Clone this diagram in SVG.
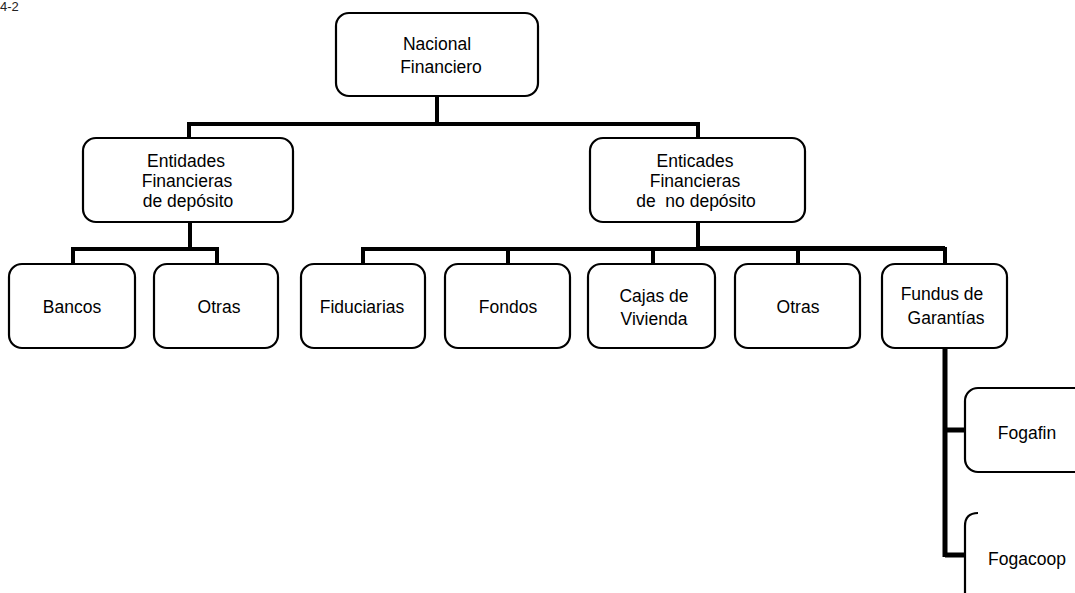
<svg xmlns="http://www.w3.org/2000/svg" width="1075" height="593" viewBox="0 0 1075 593">
<style>
.box{fill:#fff;stroke:#000;stroke-width:2.2}
.t{font-family:"Liberation Sans",Arial,sans-serif;font-size:17.5px;fill:#000;text-anchor:middle}
.c{stroke:#000;stroke-width:4;fill:none}
</style>
<rect width="1075" height="593" fill="#fff"/>
<text x="0" y="11" style="font-family:'Liberation Sans',Arial,sans-serif;font-size:13px;fill:#222">4-2</text>
<g id="connectors">
<path class="c" d="M437 96V124M187 124H700M189 124V138M698 124V138"/>
<path class="c" d="M190 222V249M71 249H219M73 249V264M217 249V264"/>
<path class="c" d="M698 222V249M361 249H947M363 249V264M508 249V264M653 249V264M798 249V264M945 249V264"/>
<path class="c" d="M698 247H945" style="stroke-width:2"/>
<path class="c" d="M945 348V557M945 430H966M945 555H966" style="stroke-width:5"/>
</g>
<g id="n-nacional"><rect class="box" x="336" y="13" width="202" height="83" rx="13"/><text class="t" x="437" y="50">Nacional</text><text class="t" x="441" y="73">Financiero</text></g>
<g id="n-deposito"><rect class="box" x="83" y="138" width="210" height="84" rx="13"/><text class="t" x="186" y="167">Entidades</text><text class="t" x="187" y="187">Financieras</text><text class="t" x="188" y="207">de depósito</text></g>
<g id="n-nodeposito"><rect class="box" x="590" y="138" width="215" height="84" rx="13"/><text class="t" x="695" y="167">Enticades</text><text class="t" x="695" y="187">Financieras</text><text class="t" x="696" y="207" xml:space="preserve">de  no depósito</text></g>
<g id="n-bancos"><rect class="box" x="9" y="264" width="126" height="84" rx="13"/><text class="t" x="72" y="313">Bancos</text></g>
<g id="n-otras1"><rect class="box" x="154" y="264" width="124" height="84" rx="13"/><text class="t" x="219" y="313">Otras</text></g>
<g id="n-fiduciarias"><rect class="box" x="301" y="264" width="124" height="84" rx="13"/><text class="t" x="362" y="313">Fiduciarias</text></g>
<g id="n-fondos"><rect class="box" x="445" y="264" width="125" height="84" rx="13"/><text class="t" x="508" y="313">Fondos</text></g>
<g id="n-cajas"><rect class="box" x="588" y="264" width="127" height="84" rx="13"/><text class="t" x="654" y="302">Cajas de</text><text class="t" x="654" y="325">Vivienda</text></g>
<g id="n-otras2"><rect class="box" x="735" y="264" width="125" height="84" rx="13"/><text class="t" x="798" y="313">Otras</text></g>
<g id="n-garantias"><rect class="box" x="882" y="264" width="125" height="84" rx="13"/><text class="t" x="942" y="300">Fundus de</text><text class="t" x="946" y="324">Garantías</text></g>
<g id="n-fogafin"><rect class="box" x="965" y="388" width="130" height="84" rx="13"/><text class="t" x="1027" y="439">Fogafin</text></g>
<g id="n-fogacoop"><path class="box" d="M978 513C968 513 965 519 965 526V600" style="fill:none"/><text class="t" x="1027" y="565">Fogacoop</text></g>
</svg>
